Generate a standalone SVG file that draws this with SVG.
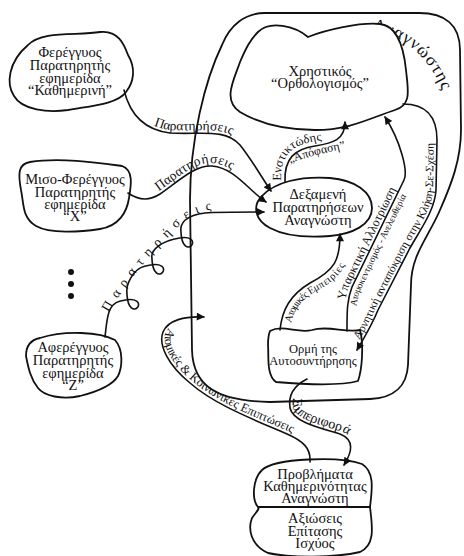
<svg xmlns="http://www.w3.org/2000/svg" width="464" height="556" viewBox="0 0 464 556">
<style>
.n{fill:#fff;stroke:#111;stroke-width:1.8;stroke-linejoin:round}
.b{fill:none;stroke:#111;stroke-width:1.8}
.c{fill:none;stroke:#111;stroke-width:1.6;stroke-linecap:round}
.a{marker-end:url(#arr)}
text{font-family:'Liberation Serif','DejaVu Serif',serif;fill:#111}
.t{font-size:14.5px;text-anchor:middle}
.s{font-size:12.5px;text-anchor:middle}
</style>
<defs>
<marker id="arr" viewBox="0 0 10 10" refX="9" refY="5" markerWidth="9" markerHeight="8" markerUnits="userSpaceOnUse" orient="auto"><path d="M0,0 L10,5 L0,10 Z" fill="#111"/></marker>
<path id="tp-wavy" d="M 106,318 C 112,305 118,298 122,292 C 130,280 140,268 148,258 C 158,247 168,238 177,228 C 185,219 195,212 215,209"/>
<path id="tp-ens" d="M 281,181 C 280,156 292,145 313,142 C 322,140 329,139 336,138"/>
<path id="tp-apo" d="M 290,163 C 310,156 335,150 362,146"/>
<path id="tp-arn" d="M 357,350 C 364,338 372,325 378,310 L 410,248 C 420,230 435,210 436,190 L 437,140 C 437,115 425,104 403,104"/>
<path id="tp-koin" d="M 204,317 C 185,316 168,320 163,332 C 158,345 168,365 190,383 C 215,405 255,420 287,434 C 303,441 311,448 310,462"/>
<path id="tp-anag" d="M 372,30 C 408,36 436,62 449,110"/>
</defs>
<rect width="464" height="556" fill="#fff"/>

<g id="reader">
<path class="b" d="M 265,13 L 419,13 C 445,13 460,25 460,50 L 461,130 C 461,160 451,185 440,210 C 428,238 411,255 411,285 L 408,365 C 407,385 395,398 370,399 L 270,402 C 215,401 193,385 192,350 L 190,200 C 190,140 205,80 222,45 C 230,25 245,13 265,13 Z"/>
<text font-size="17.5" letter-spacing="1"><textPath href="#tp-anag">Αναγνώστης</textPath></text>
</g>

<g id="n-fereggyos">
<path class="n" d="M 28,45 C 42,30 78,36 100,32 C 118,30 124,44 128,55 C 136,68 134,82 126,92 C 118,104 90,106 68,110 C 48,113 22,110 14,96 C 6,84 8,62 28,45 Z"/>
<text class="t"><tspan x="70" y="57">Φερέγγυος</tspan><tspan x="70" y="70">Παρατηρητής</tspan><tspan x="70" y="83">εφημερίδα</tspan><tspan x="70" y="95">“Καθημερινή”</tspan></text>
</g>

<g id="n-miso">
<path class="n" d="M 30,162 C 60,157 100,163 122,166 C 134,170 131,186 129,198 C 127,212 119,226 100,229 C 80,232 50,234 36,226 C 22,218 24,204 21,190 C 18,174 18,164 30,162 Z"/>
<text class="t"><tspan x="75" y="184">Μισο-Φερέγγυος</tspan><tspan x="75" y="197">Παρατηρητής</tspan><tspan x="75" y="209">εφημερίδα</tspan><tspan x="75" y="221">“X”</tspan></text>
</g>

<g id="n-dots">
<circle cx="71" cy="272" r="3" fill="#111"/>
<circle cx="71" cy="284" r="3" fill="#111"/>
<circle cx="71" cy="296" r="3" fill="#111"/>
</g>

<g id="n-afereggyos">
<path class="n" d="M 40,338 C 65,330 100,332 115,340 C 124,350 122,368 118,376 C 112,386 96,392 80,396 C 62,400 44,396 38,388 C 30,378 28,366 26,356 C 26,346 30,340 40,338 Z"/>
<text class="t"><tspan x="73" y="352">Αφερέγγυος</tspan><tspan x="73" y="365">Παρατηρητής</tspan><tspan x="73" y="378">εφημερίδα</tspan><tspan x="73" y="390">“Z”</tspan></text>
</g>

<g id="n-xristikos">
<path class="n" d="M 258,32 C 270,20 295,26 308,37 C 325,30 360,22 380,24 C 398,26 404,50 406,70 C 408,90 412,105 395,110 C 370,118 350,130 315,130 C 285,130 260,124 240,112 C 222,100 234,80 240,62 C 246,48 250,40 258,32 Z"/>
<text class="t"><tspan x="320" y="76">Χρηστικός</tspan><tspan x="320" y="88">“Ορθολογισμός”</tspan></text>
</g>

<g id="n-dexameni">
<path class="n" d="M 262,196 C 275,182 300,176 330,178 C 355,180 372,192 372,208 C 372,225 352,234 330,236 C 305,238 285,236 270,228 C 255,220 252,206 262,196 Z"/>
<text class="t"><tspan x="318" y="199">Δεξαμενή</tspan><tspan x="318" y="212">Παρατηρήσεων</tspan><tspan x="318" y="225">Αναγνώστη</tspan></text>
</g>

<g id="n-ormi">
<path class="n" d="M 270,331 C 283,324 298,334 312,330 C 328,325 345,333 360,330 C 364,345 362,370 358,381 C 340,386 300,384 276,382 C 266,375 269,355 268,345 C 268,340 268,336 270,331 Z"/>
<text class="s"><tspan x="313" y="353">Ορμή της</tspan><tspan x="313" y="365">Αυτοσυντήρησης</tspan></text>
</g>

<g id="n-provlimata">
<path class="n" d="M 262,470 C 275,458 340,456 362,464 C 375,472 372,490 370,507 C 372,525 376,545 360,552 C 335,558 290,558 268,553 C 250,545 248,528 252,518 C 256,512 260,509 258,507 C 252,500 252,480 262,470 Z"/>
<path class="b" d="M 258,507 L 371,507"/>
<text class="t"><tspan x="315" y="479">Προβλήματα</tspan><tspan x="315" y="491">Καθημερινότητας</tspan><tspan x="315" y="503">Αναγνώστη</tspan><tspan x="315" y="523">Αξιώσεις</tspan><tspan x="315" y="536">Επίτασης</tspan><tspan x="315" y="548">Ισχύος</tspan></text>
</g>

<g id="connectors">
<path id="c-obs1" class="c a" d="M 124,90 C 130,115 145,130 170,133 C 200,135 225,128 240,145 C 252,160 262,178 271,191"/>
<path id="c-obs2" class="c a" d="M 128,193 C 138,200 148,202 160,194 C 180,180 195,165 212,166 C 235,168 248,190 266,202"/>
<path id="c-obs3" class="c a" d="M 105,337 C 107,318 108,304 119.6,301.2 C 156.8,291.6 128,330 126.8,291.6 C 126.6,284 133,269 144.6,266.2 C 181.8,256.6 153,295 151.8,256.6 C 151.6,249 162,242 173.6,239.2 C 210.8,229.6 182,268 180.8,229.6 C 180.6,220 192,213 212,212.5 C 232,212 250,212 264,212"/>
<path id="c-inst" class="c a" d="M 285,182 C 284,158 295,149 315,146 C 333,143 345,140 345,122"/>
<path id="c-exist" class="c a" d="M 347,331 C 347,310 347,300 352,287 L 404,180 C 408.4,171 400,140 385,117"/>
<path id="c-neg" class="c a" d="M 403,104 C 425,104 437,115 437,140 L 436,190 C 435,210 420,230 410,248 L 378,310 C 372,325 364,338 357,350"/>
<path id="c-exp" class="c a" d="M 280,330 C 282,310 290,295 310,283 C 335,270 340,260 340,234"/>
<path id="c-beh" class="c a" d="M 307,379 C 295,385 288,395 290,408 C 293,422 320,428 340,434 C 355,440 352,452 344,465"/>
<path id="c-soc" class="c a" d="M 310,462 C 311,448 303,441 287,434 C 255,420 215,405 190,383 C 168,365 158,345 163,332 C 168,320 185,316 204,317"/>

<text font-size="13.5" dy="-3"><textPath href="#c-obs1" startOffset="50">Παρατηρήσεις</textPath></text>
<text font-size="13.5" dy="-3"><textPath href="#c-obs2" startOffset="35">Παρατηρήσεις</textPath></text>
<text font-size="13.5" letter-spacing="1.5"><textPath href="#tp-wavy" startOffset="6">Π α ρ α τ η ρ ή σ ε ι ς</textPath></text>
<text font-size="12.5"><textPath href="#tp-ens">Ενστικτώδης</textPath></text>
<text font-size="12"><textPath href="#tp-apo">„Απόφαση”</textPath></text>
<text font-size="12.5" dy="-3"><textPath href="#c-exist" startOffset="30">Υπαρκτική Αλλοτρίωση</textPath></text>
<text font-size="9.5" dy="9"><textPath href="#c-exist" startOffset="26">Ατομοκεντρισμός - Ανελευθερία</textPath></text>
<text font-size="11.5" dy="-3"><textPath href="#tp-arn" startOffset="10">Αρνητική ανταπόκριση στην Κλήση-Σε-Σχέση</textPath></text>
<text font-size="10.5" dy="10"><textPath href="#c-exp" startOffset="10">Ατομικές Εμπειρίες</textPath></text>
<text font-size="14" dy="-3"><textPath href="#c-beh" startOffset="26">Συμπεριφορά</textPath></text>
<text font-size="12.5" dy="-3"><textPath href="#tp-koin" startOffset="40">Ατομικές &amp; Κοινωνικές Επιπτώσεις</textPath></text>
</g>
</svg>
